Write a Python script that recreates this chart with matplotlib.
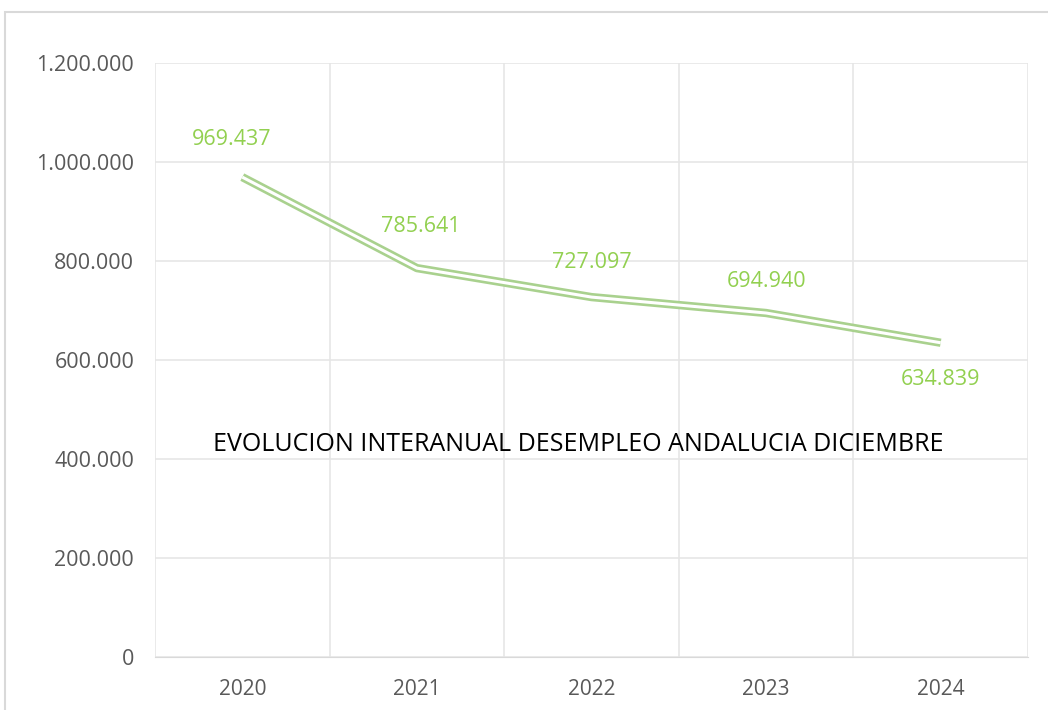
import matplotlib
matplotlib.use("Agg")
import matplotlib.pyplot as plt
from matplotlib.patches import Rectangle

years = ["2020", "2021", "2022", "2023", "2024"]
parados = [969437, 785641, 727097, 694940, 634839]
etiquetas = ["969.437", "785.641", "727.097", "694.940", "634.839"]
titulo = "EVOLUCION INTERANUAL DESEMPLEO ANDALUCIA DICIEMBRE"

plt.rcParams['font.family'] = ['Open Sans', 'DejaVu Sans']

fig = plt.figure(figsize=(10.48, 7.10), dpi=100)
ax = fig.add_axes([155/1048, 1 - 657/710, (1028-155)/1048, (657-63)/710])

# marco del grafico (solo se ven borde izquierdo y superior)
fig.patches.append(Rectangle((5/1048, -0.1), 1.2, 1 - 12/710 + 0.1, transform=fig.transFigure,
                             fill=False, edgecolor='#d9d9d9', linewidth=1.5))

x = range(len(years))
# linea doble: verde gruesa + blanca fina encima
ax.plot(x, parados, color='#a9d18e', linewidth=6.0, solid_capstyle='butt', zorder=3)
ax.plot(x, parados, color='white', linewidth=2.2, solid_capstyle='butt', zorder=4)

offs = [(-11, 38), (4, 42), (0, 35), (0, 32), (0, -37)]
for i, (v, t) in enumerate(zip(parados, etiquetas)):
    ax.annotate(t, (i, v), xytext=offs[i], textcoords='offset pixels',
                ha='center', va='center', color='#92d050', fontsize=15.5, zorder=5)

ax.set_xlim(-0.5, 4.5)
ax.set_ylim(0, 1200000)
ax.set_yticks(range(0, 1200001, 200000))
ax.set_yticklabels(['0' if v == 0 else f"{v:,}".replace(',', '.') for v in range(0, 1200001, 200000)])
ax.set_xticks(list(x))
ax.set_xticklabels(years)
ax.set_xticks([i - 0.5 for i in range(6)], minor=True)
ax.grid(True, which='major', axis='y', color='#e6e6e6', linewidth=1.2)
ax.grid(True, which='minor', axis='x', color='#e6e6e6', linewidth=1.2)
ax.set_axisbelow(True)
for s in ['top', 'right', 'left']:
    ax.spines[s].set_visible(False)
ax.spines['bottom'].set_color('#d9d9d9')
ax.tick_params(which='both', length=0)
ax.tick_params(axis='y', labelsize=15.5, labelcolor='#595959', pad=15)
ax.tick_params(axis='x', labelsize=15, labelcolor='#595959', pad=16)

ax.text(0.485, 0.357, titulo, transform=ax.transAxes, ha='center', va='center',
        fontsize=18, color='black', zorder=6)

fig.savefig('out.png', dpi=100)
